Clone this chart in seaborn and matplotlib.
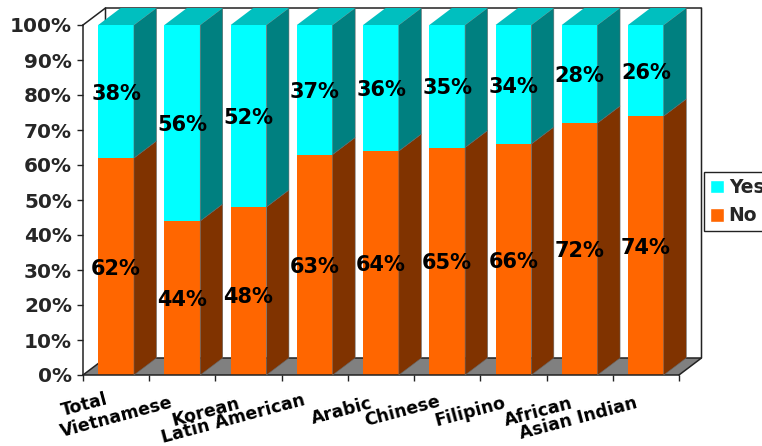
import numpy as np
import pandas as pd
import matplotlib
matplotlib.use("Agg")
import matplotlib.pyplot as plt
from matplotlib.patches import Patch, Polygon
import seaborn as sns

# values
categories = ["Total", "Vietnamese", "Korean", "Latin American", "Arabic",
              "Chinese", "Filipino", "African", "Asian Indian"]
no_pct = [62, 44, 48, 63, 64, 65, 66, 72, 74]
yes_pct = [38, 56, 52, 37, 36, 35, 34, 28, 26]
y_ticks = [0, 10, 20, 30, 40, 50, 60, 70, 80, 90, 100]

# centre of each staggered category label, in reference pixels
label_px = [(85, 405), (117, 417), (206, 412), (233, 419), (342, 411),
            (402, 411), (470, 412), (538, 412), (578, 418)]

W, H = 762, 446
NO, NO_SIDE = "#FF6600", "#803300"
YES, YES_SIDE, YES_TOP = "#00FFFF", "#008080", "#00BFBF"
FLOOR = "#808080"
EDGE = "#222222"

sns.set_theme(style="white")
plt.rcParams["font.family"] = ["DejaVu Sans"]
plt.rcParams["font.weight"] = "bold"

fig = plt.figure(figsize=(W / 100, H / 100), dpi=100)
ax = fig.add_axes([83 / W, (H - 375) / H, 596 / W, 350 / H])

df = pd.DataFrame({"group": categories, "no": no_pct, "yes": yes_pct})
sns.barplot(data=df, x="group", y="no", color=NO, saturation=1, width=0.54,
            edgecolor="none", linewidth=0, ax=ax)
sns.barplot(data=df, x="group", y="yes", bottom=df["no"], color=YES, saturation=1,
            width=0.54, edgecolor="none", linewidth=0, ax=ax)
ax.set_xlim(-0.5, len(categories) - 0.5)
ax.set_ylim(0, 100)

# depth of the fake 3d box, in data units
dx, dy = 22.5 / (596 / 9), 17 / 3.5
x0, x1 = ax.get_xlim()

ax.add_patch(Polygon([(x0, 0), (x1, 0), (x1 + dx, dy), (x0 + dx, dy)], closed=True,
                     facecolor=FLOOR, edgecolor="none", clip_on=False, zorder=0.5))

# back wall outline
wall = dict(color=EDGE, lw=1.1, clip_on=False, zorder=0.8)
ax.plot([x0, x0 + dx, x1 + dx, x1 + dx, x1], [100, 100 + dy, 100 + dy, dy, 0], **wall)
ax.plot([x0, x0 + dx, x0 + dx], [0, dy, 100 + dy], **wall)
ax.plot([x0 + dx, x1 + dx], [dy, dy], **wall)

# side and top faces, taken from the bars seaborn drew
n = len(categories)
for bar, side in zip(list(ax.containers[0]) + list(ax.containers[1]),
                     [NO_SIDE] * n + [YES_SIDE] * n):
    left, right = bar.get_x(), bar.get_x() + bar.get_width()
    low, high = bar.get_y(), bar.get_y() + bar.get_height()
    ax.add_patch(Polygon([(right, low), (right + dx, low + dy),
                          (right + dx, high + dy), (right, high)], closed=True,
                         facecolor=side, edgecolor="#666666", lw=0.4,
                         clip_on=False, zorder=1.5))
    if side == YES_SIDE:
        ax.add_patch(Polygon([(left, high), (right, high), (right + dx, high + dy),
                              (left + dx, high + dy)], closed=True,
                             facecolor=YES_TOP, edgecolor="none",
                             clip_on=False, zorder=1.5))

no_labels = ax.bar_label(ax.containers[0], fmt="%g%%", label_type="center", color="black",
                         fontsize=15, fontweight="bold", zorder=5)
yes_labels = ax.bar_label(ax.containers[1], fmt="%g%%", label_type="center", color="black",
                          fontsize=15, fontweight="bold", zorder=5)
# labels sit a little under the segment middle, offsets here are in points
for lab in list(no_labels) + list(yes_labels):
    lab.set_y(lab.get_position()[1] - 1.5)
no_labels[2].set_y(no_labels[2].get_position()[1] - 3)

ax.set_yticks(y_ticks)
ax.set_yticklabels([f"{v}%" for v in y_ticks], fontsize=14.4, fontweight="bold")
ax.set_xticks(np.arange(n + 1) - 0.5)
ax.set_xticklabels([])
ax.set_xlabel("")
ax.set_ylabel("")
ax.tick_params(axis="both", which="major", length=4.4, width=1.0, color=EDGE,
               left=True, bottom=True, pad=3.6)
sns.despine(ax=ax)
for name in ["left", "bottom"]:
    ax.spines[name].set_linewidth(1.1)
    ax.spines[name].set_color(EDGE)
    ax.spines[name].set_zorder(1.2)

for name, (px, py) in zip(categories, label_px):
    fig.text(px / W, 1 - py / H, name, rotation=15, ha="center", va="center",
             fontsize=12.5, fontweight="bold", color="black")

handles = [Patch(facecolor=YES, label="Yes"), Patch(facecolor=NO, label="No")]
leg = fig.legend(handles=handles, loc="upper left",
                 bbox_to_anchor=(704 / W, 1 - 172 / H), fancybox=False,
                 framealpha=1, edgecolor=EDGE, fontsize=13.5,
                 handlelength=0.75, handleheight=0.75, handletextpad=0.25,
                 labelspacing=0.5, borderpad=0.32, borderaxespad=0)
leg.get_frame().set_linewidth(1.0)

fig.savefig("out.png", dpi=100)
